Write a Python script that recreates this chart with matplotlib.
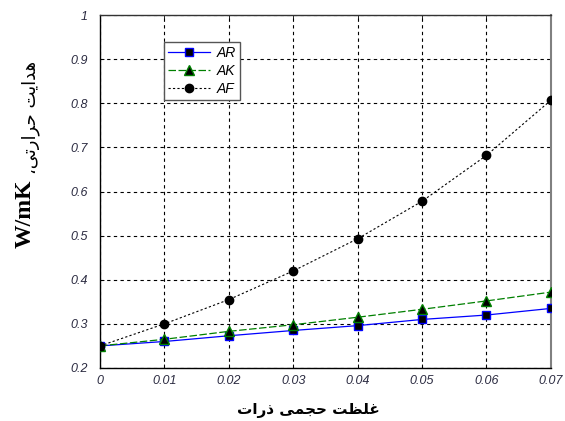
import matplotlib
matplotlib.use("Agg")
import matplotlib.pyplot as plt

x_vals = [0, 0.01, 0.02, 0.03, 0.04, 0.05, 0.06, 0.07]
ar_vals = [0.25, 0.260, 0.273, 0.285, 0.296, 0.310, 0.320, 0.335]
ak_vals = [0.25, 0.265, 0.283, 0.298, 0.315, 0.333, 0.352, 0.372]
af_vals = [0.25, 0.300, 0.355, 0.420, 0.493, 0.578, 0.682, 0.807]
x_ticks = [0, 0.01, 0.02, 0.03, 0.04, 0.05, 0.06, 0.07]
x_tick_labels = ["0", "0.01", "0.02", "0.03", "0.04", "0.05", "0.06", "0.07"]
y_ticks = [0.2, 0.3, 0.4, 0.5, 0.6, 0.7, 0.8, 0.9, 1.0]
y_tick_labels = ["0.2", "0.3", "0.4", "0.5", "0.6", "0.7", "0.8", "0.9", "1"]

# Persian labels, pre-shaped (presentation forms) in visual order
xlabel_text = "\uFE95\uFE8D\uFEAD\uFEAB \uFEF0\uFEE4\uFEA0\uFEA3 \uFE96\uFEC8\uFEE0\uFECF"
ylabel_fa = "\u060C\uFEF0\uFE97\uFEAD\uFE8D\uFEAE\uFEA3 \uFE96\uFEF3\uFE8D\uFEAA\uFEEB"
ylabel_unit = "W/mK"

fig = plt.figure(figsize=(5.65, 4.21), dpi=100)
ax = fig.add_axes([0.177, 0.126, 0.798, 0.838])

ax.plot(x_vals, ar_vals, color="blue", lw=0.9, ls="-", marker="s", ms=6,
        mfc="black", mec="blue", mew=1.0, label="AR", zorder=3)
ax.plot(x_vals, ak_vals, color="green", lw=0.9, ls=(0, (6, 2)), marker="^", ms=6.5,
        mfc="black", mec="green", mew=1.0, label="AK", zorder=3)
ax.plot(x_vals, af_vals, color="black", lw=0.8, ls=(0, (2, 2)), marker="o", ms=6,
        mfc="black", mec="black", label="AF", zorder=3)

ax.set_xlim(0, 0.07)
ax.set_ylim(0.2, 1.0)
ax.set_xticks(x_ticks)
ax.set_xticklabels(x_tick_labels)
ax.set_yticks(y_ticks)
ax.set_yticklabels(y_tick_labels)
for lbl in ax.get_xticklabels() + ax.get_yticklabels():
    lbl.set_fontfamily("Liberation Sans")
    lbl.set_fontstyle("italic")
    lbl.set_fontsize(9)
    lbl.set_color("#2a2a40")
ax.tick_params(direction="in", length=3, width=0.6, top=True, right=True)
ax.tick_params(axis="x", pad=5)
ax.tick_params(axis="y", pad=9)
ax.grid(True, color="black", ls=(0, (3, 3)), lw=0.8)
for s in ax.spines.values():
    s.set_linewidth(1.0)
ax.spines["right"].set_color("#808080")
ax.spines["right"].set_linewidth(1.5)
ax.spines["top"].set_color("#333333")

leg = ax.legend(loc="upper left", bbox_to_anchor=(0.142, 0.925), frameon=True,
                fancybox=False, edgecolor="#555555", framealpha=1,
                prop={"family": "Liberation Sans", "style": "italic", "size": 10},
                handlelength=3.0, borderpad=0.3, labelspacing=0.3,
                handletextpad=0.5, borderaxespad=0)
leg.get_frame().set_linewidth(1.0)

fig.text(0.545, 0.026, xlabel_text, family=["DejaVu Sans"], fontsize=11,
         fontweight="bold", ha="center", va="center")
fig.text(0.044, 0.492, ylabel_unit, family=["Liberation Serif"], fontsize=17,
         fontweight="bold", rotation=90, ha="center", va="center")
fig.text(0.055, 0.72, ylabel_fa, family=["DejaVu Sans"], fontsize=13,
         rotation=90, ha="center", va="center")

fig.savefig("out.png", dpi=100, facecolor="white")
